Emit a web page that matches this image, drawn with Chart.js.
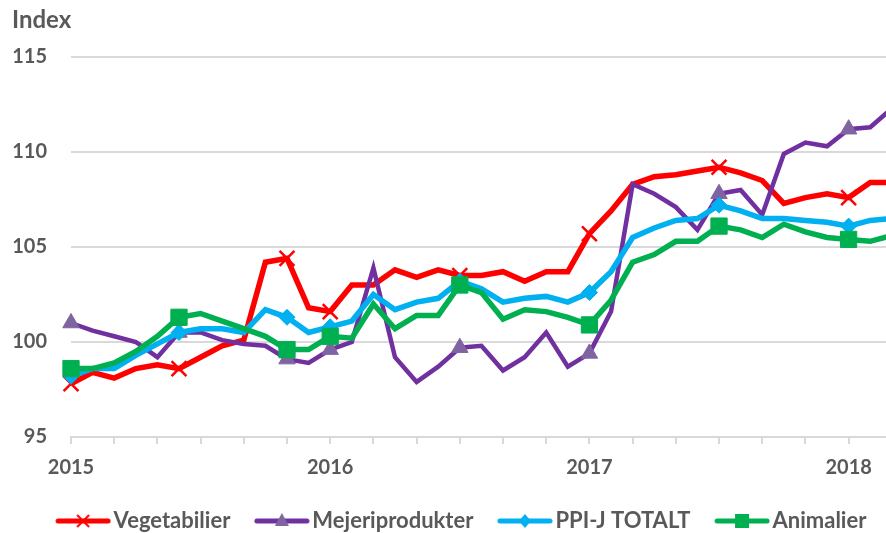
<!DOCTYPE html>
<html>
<head>
<meta charset="utf-8">
<script src="https://cdn.jsdelivr.net/npm/chart.js@4"></script>
<style>
html,body{margin:0;padding:0;background:#ffffff;}
#wrap{width:886px;height:533px;position:relative;}
</style>
</head>
<body>
<div id="wrap"><canvas id="c" width="886" height="533"></canvas></div>
<script>
// ---- data (monthly index, Jan 2015 – Mar 2018) ----
const months = ['2015-01','2015-02','2015-03','2015-04','2015-05','2015-06','2015-07','2015-08','2015-09','2015-10','2015-11','2015-12',
                '2016-01','2016-02','2016-03','2016-04','2016-05','2016-06','2016-07','2016-08','2016-09','2016-10','2016-11','2016-12',
                '2017-01','2017-02','2017-03','2017-04','2017-05','2017-06','2017-07','2017-08','2017-09','2017-10','2017-11','2017-12',
                '2018-01','2018-02','2018-03'];
const seriesNames = ['Vegetabilier','Mejeriprodukter','PPI-J TOTALT','Animalier'];
const vegetabilier = [97.8, 98.4, 98.1, 98.6, 98.8, 98.6, 99.2, 99.8, 100.1, 104.2, 104.4, 101.8,
                      101.6, 103.0, 103.0, 103.8, 103.4, 103.8, 103.5, 103.5, 103.7, 103.2, 103.7, 103.7,
                      105.7, 106.9, 108.3, 108.7, 108.8, 109.0, 109.2, 108.9, 108.5, 107.3, 107.6, 107.8,
                      107.6, 108.4, 108.4];
const mejeriprodukter = [101.0, 100.6, 100.3, 100.0, 99.2, 100.5, 100.5, 100.1, 99.9, 99.8, 99.1, 98.9,
                         99.6, 100.0, 103.9, 99.2, 97.9, 98.7, 99.7, 99.8, 98.5, 99.2, 100.5, 98.7,
                         99.4, 101.6, 108.3, 107.8, 107.1, 105.9, 107.8, 108.0, 106.7, 109.9, 110.5, 110.3,
                         111.2, 111.3, 112.3];
const ppijTotalt = [98.2, 98.6, 98.6, 99.3, 99.9, 100.5, 100.7, 100.7, 100.5, 101.7, 101.3, 100.5,
                    100.8, 101.1, 102.5, 101.7, 102.1, 102.3, 103.2, 102.8, 102.1, 102.3, 102.4, 102.1,
                    102.6, 103.7, 105.5, 106.0, 106.4, 106.5, 107.2, 106.9, 106.5, 106.5, 106.4, 106.3,
                    106.1, 106.4, 106.5];
const animalier = [98.6, 98.6, 98.9, 99.5, 100.3, 101.3, 101.5, 101.1, 100.7, 100.3, 99.6, 99.6,
                   100.3, 100.2, 102.0, 100.7, 101.4, 101.4, 103.0, 102.6, 101.2, 101.7, 101.6, 101.3,
                   100.9, 102.2, 104.2, 104.6, 105.3, 105.3, 106.1, 105.9, 105.5, 106.2, 105.8, 105.5,
                   105.4, 105.3, 105.6];
const markerMonths = [0, 5, 10, 12, 18, 24, 30, 36];      // months that carry a marker
const monthTicks = [0, 2, 4, 6, 8, 10, 12, 14, 16, 18, 20, 22, 24, 26, 28, 30, 32, 34, 36];
const yearTicks = [0, 12, 24, 36];
const yearLabels = ['2015', '2016', '2017', '2018'];
const yTicks = [95, 100, 105, 110, 115];

// ---- styling ----
const FONT = 'Lato, "Open Sans", "DejaVu Sans", sans-serif';
const GREY = '#595959';
const GRID = '#d9d9d9';
const styles = [
  {line: '#FF0000', marker: '#FF0000', width: 5.5, shape: 'crossRot', r: 10.5, bw: 2.5, order: 4},
  {line: '#7030A0', marker: '#8064A2', width: 4.5, shape: 'triangle', r: 9.5, bw: 1, order: 3},
  {line: '#00B0F0', marker: '#00B0F0', width: 5.5, shape: 'rectRot', r: 8, bw: 1, order: 2},
  {line: '#00B050', marker: '#00B050', width: 5.5, shape: 'rect', r: 11.5, bw: 1, order: 1}
];
const allSeries = [vegetabilier, mejeriprodukter, ppijTotalt, animalier];

// legend swatch geometry
const LEG_FS = 22, LEG_PAD = 2, LEG_A = 22, LEG_LINE = 55;
const LEG_BW = LEG_A + LEG_LINE + 3 - LEG_FS / 2;
const LEG_W = 86, LEG_H = 22;
function legendImage(st) {
  const c = document.createElement('canvas');
  c.width = LEG_W; c.height = LEG_H;
  const g = c.getContext('2d');
  const x0 = LEG_W / 2 - LEG_BW / 2 + LEG_A;   // local start of line
  const x1 = x0 + LEG_LINE;
  const cy = LEG_H / 2;
  g.strokeStyle = st.line; g.lineWidth = 5; g.lineCap = 'round';
  g.beginPath(); g.moveTo(x0 + 2.5, cy); g.lineTo(x1 - 2.5, cy); g.stroke();
  const cx = (x0 + x1) / 2;
  g.fillStyle = st.marker; g.strokeStyle = st.marker;
  if (st.shape === 'crossRot') {
    g.lineWidth = 2; g.lineCap = 'butt';
    g.beginPath(); g.moveTo(cx - 6, cy - 6); g.lineTo(cx + 6, cy + 6);
    g.moveTo(cx + 6, cy - 6); g.lineTo(cx - 6, cy + 6); g.stroke();
  } else if (st.shape === 'triangle') {
    g.beginPath(); g.moveTo(cx, cy - 8); g.lineTo(cx + 7, cy + 5); g.lineTo(cx - 7, cy + 5); g.closePath(); g.fill();
  } else if (st.shape === 'rectRot') {
    g.beginPath(); g.moveTo(cx, cy - 7); g.lineTo(cx + 6, cy); g.lineTo(cx, cy + 7); g.lineTo(cx - 6, cy); g.closePath(); g.fill();
  } else {
    g.fillRect(cx - 7, cy - 7, 14, 14);
  }
  return c;
}
const legendImages = styles.map(legendImage);

const legendShift = {
  id: 'legendShift',
  afterLayout(chart) {
    const lg = chart.legend;
    if (!lg) return;
    const dx = 1, dy = 9;
    lg.left += dx; lg.right += dx; lg.top += dy; lg.bottom += dy;
  }
};

const datasets = allSeries.map((vals, k) => ({
  label: seriesNames[k],
  data: vals.map((v, i) => ({x: i, y: v})),
  borderColor: styles[k].line,
  backgroundColor: styles[k].marker,
  borderWidth: styles[k].width,
  pointStyle: styles[k].shape,
  pointBackgroundColor: styles[k].marker,
  pointBorderColor: styles[k].marker,
  pointBorderWidth: styles[k].bw,
  pointRadius: ctx => markerMonths.includes(ctx.dataIndex) ? styles[k].r : 0,
  pointHoverRadius: ctx => markerMonths.includes(ctx.dataIndex) ? styles[k].r : 0,
  tension: 0,
  fill: false,
  clip: false,
  order: styles[k].order
}));

new Chart(document.getElementById('c'), {
  type: 'line',
  data: {labels: months, datasets},
  plugins: [legendShift],
  options: {
    responsive: false,
    animation: false,
    devicePixelRatio: 1,
    layout: {autoPadding: false, padding: {left: 12, right: 0, top: 0, bottom: 0}},
    scales: {
      x: {
        type: 'linear',
        min: 0,
        max: 37.73,
        afterBuildTicks: s => { s.ticks = monthTicks.map(v => ({value: v})); },
        afterFit: s => { s.height = 62; s.paddingLeft = 0; s.paddingRight = 0; },
        ticks: {
          autoSkip: false, maxRotation: 0, minRotation: 0, padding: 12,
          color: GREY, font: {family: FONT, size: 20, weight: 'bold'},
          callback: v => { const k = yearTicks.indexOf(v); return k >= 0 ? yearLabels[k] : ''; }
        },
        grid: {drawOnChartArea: false, drawTicks: true, tickLength: 7, color: GRID, lineWidth: 2},
        border: {display: true, color: GRID, width: 2}
      },
      y: {
        min: 95, max: 115,
        afterBuildTicks: s => { s.ticks = yTicks.map(v => ({value: v})); },
        afterFit: s => { s.width = 59; },
        ticks: {padding: 24, color: GREY, font: {family: FONT, size: 20, weight: 'bold'}},
        grid: {color: GRID, lineWidth: 2, drawTicks: false},
        border: {display: false}
      }
    },
    plugins: {
      title: {
        display: true, text: 'Index', align: 'start', color: GREY,
        font: {family: FONT, size: 24, weight: 'bold'},
        padding: {top: 6, bottom: 22.2}
      },
      legend: {
        position: 'bottom',
        labels: {
          usePointStyle: true,
          pointStyleWidth: LEG_BW,
          padding: LEG_PAD,
          color: GREY,
          font: {family: FONT, size: LEG_FS, weight: 'bold'},
          generateLabels: chart => chart.data.datasets.map((ds, i) => ({
            text: ds.label,
            pointStyle: legendImages[i],
            fillStyle: ds.borderColor,
            strokeStyle: ds.borderColor,
            lineWidth: 0,
            hidden: !chart.isDatasetVisible(i),
            datasetIndex: i,
            fontColor: GREY
          }))
        }
      },
      tooltip: {enabled: false}
    }
  }
});
</script>
</body>
</html>
